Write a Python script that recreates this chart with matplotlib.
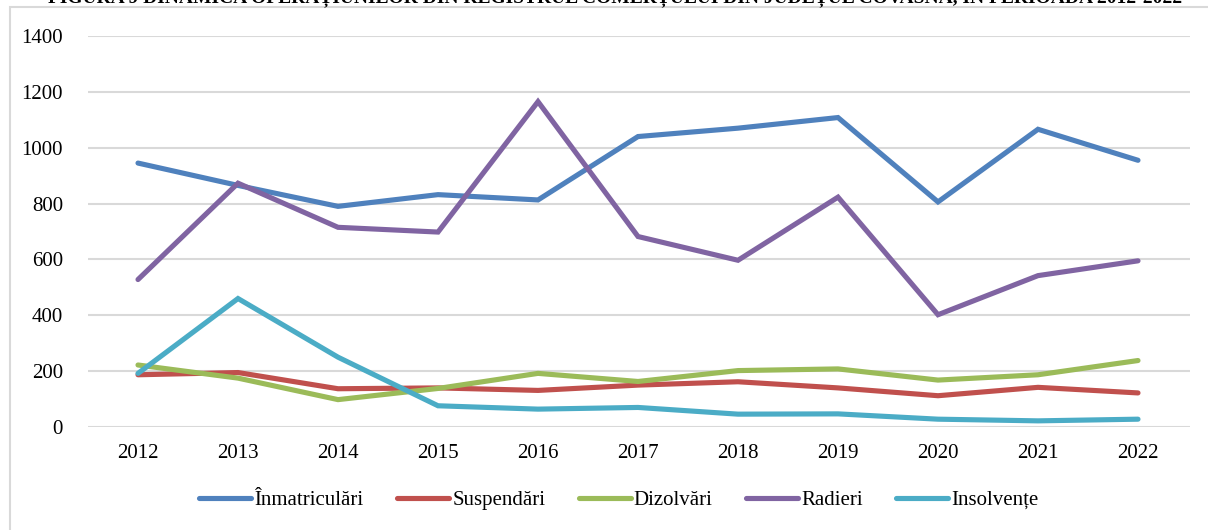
import matplotlib
matplotlib.use('AGG')
import matplotlib.pyplot as plt
from matplotlib.patches import Rectangle

# years on the x axis
years = [2012, 2013, 2014, 2015, 2016, 2017, 2018, 2019, 2020, 2021, 2022]

# series
inmatriculari = [945, 865, 790, 832, 813, 1040, 1070, 1108, 806, 1066, 955]
suspendari = [187, 195, 137, 140, 131, 150, 162, 140, 112, 142, 122]
dizolvari = [222, 175, 98, 138, 192, 163, 202, 208, 168, 187, 238]
radieri = [528, 873, 715, 698, 1165, 682, 597, 823, 402, 542, 595]
insolvente = [192, 460, 250, 76, 64, 70, 46, 47, 28, 22, 28]

labels = ['Înmatriculări', 'Suspendări', 'Dizolvări', 'Radieri', 'Insolvențe']
colors = ['#4F81BD', '#C0504D', '#9BBB59', '#8064A2', '#4BACC6']
yticks = [0, 200, 400, 600, 800, 1000, 1200, 1400]

title = 'FIGURA 9 DINAMICA OPERAȚIUNILOR DIN REGISTRUL COMERȚULUI DIN JUDEȚUL COVASNA, ÎN PERIOADA 2012-2022'

plt.rcParams['font.family'] = ['Liberation Serif', 'DejaVu Serif']

fig = plt.figure(figsize=(12.08, 5.30), dpi=100)

# light chart border, running off the right and bottom edges
fig.patches.append(Rectangle((10 / 1208, -0.05), 1.1, 1 - 7 / 530 + 0.05,
                             transform=fig.transFigure, fill=False,
                             edgecolor='#D9D9D9', linewidth=1.5))

# title is cut at the top of the picture, as in the source
fig.text(615 / 1208, 1 - 3 / 530, title, ha='center', va='baseline',
         fontsize=14, fontweight='bold')

ax = fig.add_axes([88 / 1208, 1 - 427 / 530, (1190 - 88) / 1208, (427 - 36) / 530])

series = [inmatriculari, suspendari, dizolvari, radieri, insolvente]
for vals, lab, col in zip(series, labels, colors):
    ax.plot(years, vals, color=col, linewidth=3.7, label=lab,
            solid_capstyle='round', solid_joinstyle='miter')

ax.set_xlim(2011.5, 2022.52)
ax.set_ylim(0, 1400)
ax.set_yticks(yticks)
ax.set_xticks(years)
ax.grid(axis='y', color='#D9D9D9', linewidth=1.5)
ax.set_axisbelow(True)
for s in ax.spines.values():
    s.set_visible(False)
ax.tick_params(length=0, labelsize=15, colors='#000000')
ax.tick_params(axis='y', pad=18)
ax.tick_params(axis='x', pad=12)

ax.legend(loc='center', bbox_to_anchor=(619 / 1208, 1 - 500 / 530),
          bbox_transform=fig.transFigure, ncol=5, frameon=False,
          fontsize=15, handlelength=2.5, handletextpad=0.15,
          columnspacing=1.6)

plt.savefig('out.png', dpi=100)
